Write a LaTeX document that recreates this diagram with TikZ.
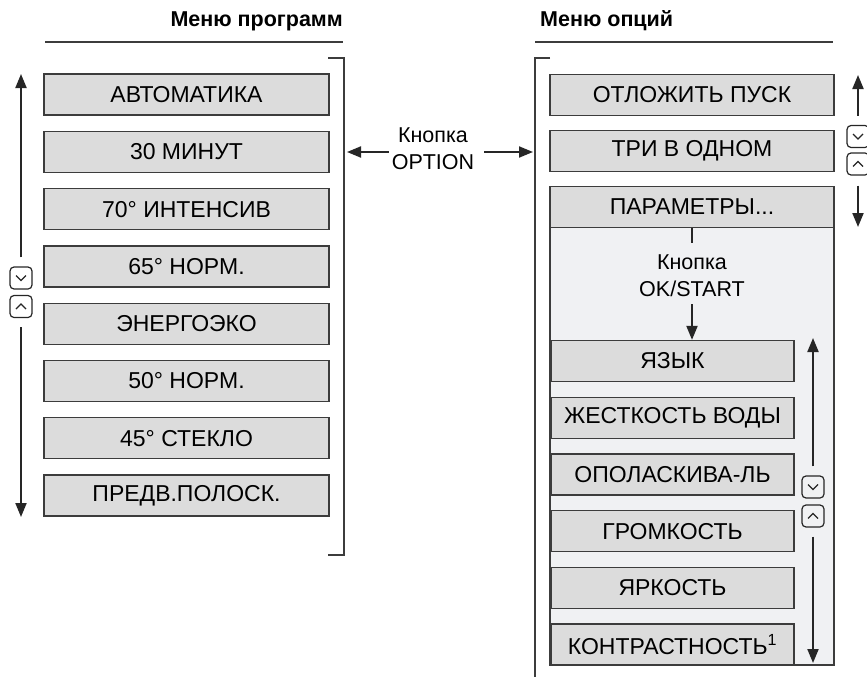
\documentclass[tikz,border=0pt]{standalone}
\usepackage{fontspec}
\setmainfont{Liberation Sans}
\usepackage{xcolor}
\usetikzlibrary{arrows.meta}
\definecolor{boxgray}{HTML}{DCDCDC}
\definecolor{panelgray}{HTML}{F0F1F3}
\definecolor{linegray}{HTML}{3C3C3C}

\begin{document}
\begin{tikzpicture}[x=1pt,y=-1pt,
	menubox/.style={draw=linegray,line width=1.3pt,fill=boxgray,minimum height=41pt,inner sep=0pt,font=\fontsize{23}{27}\selectfont},
	progbox/.style={menubox,minimum width=285pt},
	optbox/.style={menubox,minimum width=284pt},
	subbox/.style={menubox,minimum width=243pt},
	title/.style={inner sep=0pt,font=\fontsize{21.5}{25}\selectfont\bfseries},
	keytext/.style={align=center,inner sep=0pt,font=\fontsize{21.5}{27}\selectfont},
	arr/.style={-{Triangle[length=14pt,width=11pt]},line width=2pt,draw=black!85},
	rule/.style={draw=linegray,line width=1.2pt},
	keybtn/.style={draw=black!85,line width=1.2pt,rounded corners=4pt,minimum width=22pt,minimum height=22pt,inner sep=0pt},
	keydn/.style={keybtn,path picture={\draw[line width=1.2pt,sharp corners] ([shift={(-5pt,2.5pt)}]path picture bounding box.center) -- ++(5pt,-5pt) -- ++(5pt,5pt);}},
	keyup/.style={keybtn,path picture={\draw[line width=1.2pt,sharp corners] ([shift={(-5pt,-2.5pt)}]path picture bounding box.center) -- ++(5pt,5pt) -- ++(5pt,-5pt);}},
	]
	\useasboundingbox (0,0) rectangle (867,677);
	
	% titles
	\node[title,anchor=base east] (ttlprog) at (343,27) {Меню программ};
	\node[title,anchor=base west] (ttlopt) at (540,27) {Меню опций};
	\draw[rule] (45,42) -- (343,42);
	\draw[rule] (535,42) -- (833,42);
	\draw[rule] (328,58) -- (344,58) -- (344,555) -- (328,555);
	\draw[rule] (550,58) -- (535,58) -- (535,677);
	
	% program menu
	\foreach \lbl [count=\i from 0] in {АВТОМАТИКА,30 МИНУТ,70° ИНТЕНСИВ,65° НОРМ.,ЭНЕРГОЭКО,50° НОРМ.,45° СТЕКЛО,ПРЕДВ.ПОЛОСК.}
		\node[progbox] (prog\i) at (186.5,{94.5+57.3*\i}) {\lbl};
	
	\coordinate (lup) at (21,74);
	\coordinate (ldn) at (21,517);
	\node[keydn] (lkdn) at (21,278) {};
	\node[keyup] (lkup) at (21,306.5) {};
	\draw[arr,shorten <=9pt] (lkdn.north) -- (lup);
	\draw[arr,shorten <=9pt] (lkup.south) -- (ldn);
	
	% option key
	\node[keytext] (optkey) at (433,148.5) {Кнопка\\OPTION};
	\coordinate (optl) at (347,152);
	\coordinate (optr) at (533,152);
	\draw[arr,shorten <=3pt] (optkey.west |- optl) -- (optl);
	\draw[arr,shorten <=10pt] (optkey.east |- optr) -- (optr);
	
	% option menu
	\draw[rule,line width=1.3pt,fill=panelgray] (550,227) rectangle (834,665);
	\node[optbox] (opt0) at (692,95) {ОТЛОЖИТЬ ПУСК};
	\node[optbox] (opt1) at (692,151) {ТРИ В ОДНОМ};
	\node[optbox] (opt2) at (692,207) {ПАРАМЕТРЫ...};
	
	\coordinate (rup) at (858,75);
	\coordinate (rdn) at (858,227);
	\node[keydn] (rkdn) at (858,136.5) {};
	\node[keyup] (rkup) at (858,164) {};
	\draw[arr,shorten <=9pt] (rkdn.north) -- (rup);
	\draw[arr,shorten <=10pt] (rkup.south) -- (rdn);
	
	% settings submenu
	\draw[arr,-,line width=1.8pt] (opt2.south) -- ++(0,15);
	\node[keytext] (okkey) at (692,276) {Кнопка\\OK/START};
	
	\foreach \lbl [count=\i from 0] in {ЯЗЫК,ЖЕСТКОСТЬ ВОДЫ,ОПОЛАСКИВА-ЛЬ,ГРОМКОСТЬ,ЯРКОСТЬ,КОНТРАСТНОСТЬ\textsuperscript{1}}
		\node[subbox] (sub\i) at (672.5,{361+56.7*\i}) {\lbl};
	
	\draw[arr,shorten <=7pt] (okkey.south) -- (okkey.south |- sub0.north);
	
	\coordinate (sup) at (813,338);
	\coordinate (sdn) at (813,663);
	\node[keydn] (skdn) at (813,487) {};
	\node[keyup] (skup) at (813,516) {};
	\draw[arr,shorten <=9pt] (skdn.north) -- (sup);
	\draw[arr,shorten <=9pt] (skup.south) -- (sdn);
\end{tikzpicture}
\end{document}
